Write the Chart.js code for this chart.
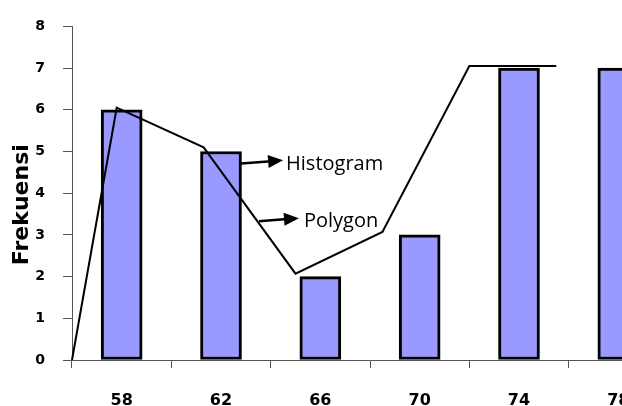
<!DOCTYPE html>
<html>
<head>
<meta charset="utf-8">
<script src="https://cdn.jsdelivr.net/npm/chart.js@4/dist/chart.umd.min.js"></script>
<style>
html,body{margin:0;padding:0;overflow:hidden;background:#fff}
#wrap{width:700px;height:406px}
</style>
</head>
<body>
<div id="wrap"><canvas id="graphique" width="700" height="406"></canvas></div>
<script>
// histogram
const kelas = ["58", "62", "66", "70", "74", "78"]
const frekuensi = [6, 5, 2, 3, 7, 7]
const polygonX = [56, 57.8, 61.3, 65, 68.5, 72, 75.5]
const polygonY = [0, 6.05, 5.1, 2.07, 3.07, 7.05, 7.05]
const yMin = 0, yMax = 8, yStep = 1

const labels = [
    {text: "Histogram", from: [62.81, 4.71], to: [64.5, 4.79], at: [64.62, 4.55]},
    {text: "Polygon", from: [63.53, 3.33], to: [65.14, 3.40], at: [65.34, 3.19]}
]

const arrowPlugin = {
    id: "arrows",
    afterDatasetsDraw(chart) {
        const ctx = chart.ctx
        const sx = chart.scales.x2, sy = chart.scales.y
        ctx.save()
        labels.forEach((a) => {
            const x0 = sx.getPixelForValue(a.from[0]), y0 = sy.getPixelForValue(a.from[1])
            const x1 = sx.getPixelForValue(a.to[0]), y1 = sy.getPixelForValue(a.to[1])
            const len = Math.hypot(x1 - x0, y1 - y0)
            const dx = (x1 - x0) / len, dy = (y1 - y0) / len
            const bx = x1 - dx * 15, by = y1 - dy * 15
            ctx.strokeStyle = "#000"
            ctx.fillStyle = "#000"
            ctx.lineWidth = 2.5
            ctx.beginPath()
            ctx.moveTo(x0, y0)
            ctx.lineTo(bx, by)
            ctx.stroke()
            ctx.beginPath()
            ctx.moveTo(x1, y1)
            ctx.lineTo(bx - dy * 6.5, by + dx * 6.5)
            ctx.lineTo(bx + dy * 6.5, by - dx * 6.5)
            ctx.closePath()
            ctx.fill()
            ctx.font = "20px 'Open Sans'"
            ctx.textBaseline = "alphabetic"
            ctx.textAlign = "left"
            ctx.fillText(a.text, sx.getPixelForValue(a.at[0]), sy.getPixelForValue(a.at[1]))
        })
        ctx.restore()
    }
}

const cvs = document.getElementById("graphique")
new Chart(cvs, {
    type: "bar",
    data: {
        labels: kelas,
        datasets: [{
            type: "line",
            label: "Polygon",
            data: polygonX.map((x, i) => ({x: x, y: polygonY[i]})),
            xAxisID: "x2",
            borderColor: "#000",
            borderWidth: 2,
            pointRadius: 0,
            tension: 0,
            fill: false,
            clip: false,
            order: 0
        }, {
            label: "Histogram",
            data: frekuensi,
            xAxisID: "x",
            backgroundColor: "#9999ff",
            borderColor: "#000",
            borderWidth: 3,
            borderSkipped: false,
            barThickness: 41,
            grouped: false,
            order: 1
        }]
    },
    options: {
        responsive: false,
        animation: false,
        devicePixelRatio: 1,
        layout: {padding: {top: 24, right: 32, left: 0, bottom: 0}},
        plugins: {legend: {display: false}, tooltip: {enabled: false}},
        scales: {
            x: {
                type: "category",
                offset: true,
                grid: {offset: true, drawOnChartArea: false, drawTicks: true, tickLength: 8, color: "#555", lineWidth: 1},
                border: {color: "#555", width: 1},
                ticks: {color: "#000", padding: 23, font: {family: "'DejaVu Sans'", size: 16, weight: "bold"}},
                afterFit: (s) => { s.height = 46 }
            },
            x2: {
                type: "linear",
                display: false,
                offset: false,
                grid: {offset: false},
                min: 56,
                max: 80
            },
            y: {
                min: yMin,
                max: yMax,
                ticks: {stepSize: yStep, color: "#000", padding: 18, font: {family: "'DejaVu Sans'", size: 14, weight: "bold"}},
                grid: {drawOnChartArea: false, drawTicks: true, tickLength: 9, color: "#555"},
                border: {color: "#555", width: 1},
                title: {display: true, text: "Frekuensi   ", color: "#000", padding: {top: 9, bottom: 0}, font: {family: "'DejaVu Sans'", size: 22, weight: "bold"}},
                afterFit: (s) => { s.width = 72 }
            }
        }
    },
    plugins: [arrowPlugin]
})
</script>
</body>
</html>
